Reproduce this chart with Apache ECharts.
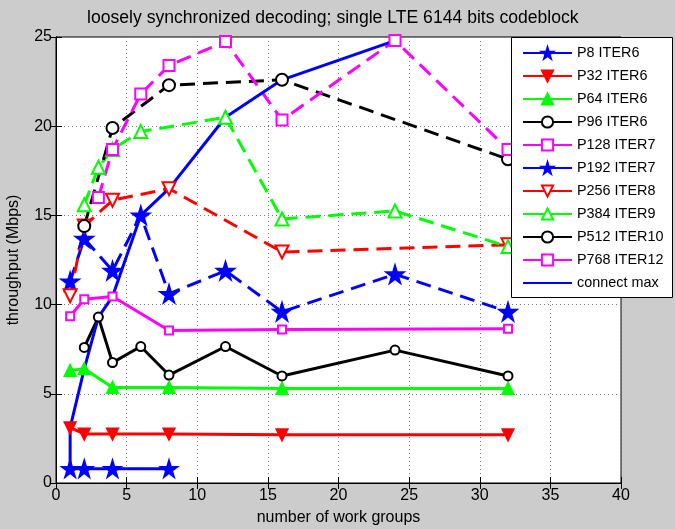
<!DOCTYPE html>
<html>
<head>
<meta charset="utf-8">
<script src="https://cdn.jsdelivr.net/npm/echarts@6/dist/echarts.min.js"></script>
<style>
html,body{margin:0;padding:0;background:#cccccc;}
#chart{width:675px;height:529px;}
</style>
</head>
<body>
<div id="chart"></div>
<script>
// data
var xTicks = [0, 5, 10, 15, 20, 25, 30, 35, 40];
var yTicks = [0, 5, 10, 15, 20, 25];

var xP8 = [1, 2, 4, 8];
var yP8 = [0.8, 0.8, 0.8, 0.8];
var xP32 = [1, 2, 4, 8, 16, 32];
var yP32 = [3.1, 2.75, 2.75, 2.75, 2.7, 2.7];
var xP64 = [1, 2, 4, 8, 16, 32];
var yP64 = [6.3, 6.4, 5.35, 5.35, 5.3, 5.3];
var xP96 = [2, 3, 4, 6, 8, 12, 16, 24, 32];
var yP96 = [7.6, 9.3, 6.75, 7.65, 6.05, 7.65, 6.0, 7.45, 6.0];
var xP128 = [1, 2, 4, 8, 16, 32];
var yP128 = [9.35, 10.3, 10.45, 8.55, 8.6, 8.65];
var xP192 = [1, 2, 4, 6, 8, 12, 16, 24, 32];
var yP192 = [11.3, 13.7, 11.9, 15.0, 10.6, 11.9, 9.6, 11.7, 9.6];
var xP256 = [1, 2, 4, 8, 16, 32];
var yP256 = [10.5, 14.4, 15.85, 16.5, 12.95, 13.35];
var xP384 = [2, 3, 4, 6, 12, 16, 24, 32];
var yP384 = [15.6, 17.7, 18.7, 19.7, 20.5, 14.8, 15.25, 13.25];
var xP512 = [2, 4, 8, 16, 32];
var yP512 = [14.4, 19.9, 22.3, 22.6, 18.15];
var xP768 = [3, 4, 6, 8, 12, 16, 24, 32];
var yP768 = [16.0, 18.7, 21.8, 23.4, 24.75, 20.35, 24.8, 18.7];
var xMax = [1, 1, 2, 3, 4, 6, 8, 12, 16, 24];
var yMax = [0.8, 3.1, 6.4, 9.3, 10.45, 15.0, 16.5, 20.5, 22.6, 24.8];

var star = 'path://M50,0 L61,35 L98,35 L68,57 L79,91 L50,70 L21,91 L32,57 L2,35 L39,35 Z';
var dash = [15, 8];

function pairs(xs, ys) {
	return xs.map(function (x, i) { return [x, ys[i]]; });
}

function mk(name, xs, ys, color, symbol, size, filled, dashed, rot) {
	var s = {
		name: name,
		type: 'line',
		data: pairs(xs, ys),
		symbol: symbol,
		symbolSize: size,
		symbolRotate: rot || 0,
		lineStyle: {color: color, width: 3, type: dashed ? dash : 'solid'},
		itemStyle: {color: filled ? color : '#fff', borderColor: color, borderWidth: 2},
		emphasis: {disabled: true},
		animation: false
	};
	if (!symbol) {
		// plain line, keep the legend icon free of a marker
		s.symbol = 'circle';
		s.symbolSize = 0;
		s.showSymbol = false;
		s.itemStyle = {color: 'rgba(0,0,0,0)', borderWidth: 0};
	}
	return s;
}

var chart = echarts.init(document.getElementById('chart'));
var axisFont = {color: '#000', fontSize: 16, fontFamily: 'Liberation Sans'};

var option = {
	backgroundColor: '#cccccc',
	title: {
		text: 'loosely synchronized decoding; single LTE 6144 bits codeblock',
		left: 82, top: 4,
		textStyle: {color: '#000', fontSize: 17.6, fontWeight: 'normal', fontFamily: 'Liberation Sans'}
	},
	grid: {left: 56, top: 37, width: 565, height: 446, outerBoundsMode: 'none', show: true, backgroundColor: '#fff', borderColor: '#000', borderWidth: 1},
	graphic: [{
		type: 'rect', left: 511, top: 37, z: 100,
		shape: {width: 161, height: 260},
		style: {fill: '#fff', stroke: '#000', lineWidth: 1}
	}],
	legend: {
		orient: 'vertical', left: 517, top: 41, z: 110,
		itemWidth: 49, itemHeight: 14, itemGap: 9,
		lineStyle: {type: 'solid'},
		textStyle: {color: '#000', fontSize: 14.4, fontFamily: 'Liberation Sans'}
	},
	xAxis: [{
		type: 'value', min: 0, max: 40, interval: 5,
		name: 'number of work groups', nameLocation: 'middle', nameGap: 27,
		nameTextStyle: axisFont,
		axisLine: {show: true, lineStyle: {color: '#000'}},
		axisTick: {inside: true, length: 6, lineStyle: {color: '#000'}},
		axisLabel: Object.assign({margin: 5}, axisFont),
		splitLine: {show: true, lineStyle: {color: '#777', type: [1, 3]}}
	}, {
		type: 'value', min: 0, max: 40, interval: 5, position: 'top',
		axisLine: {show: true, lineStyle: {color: '#000'}},
		axisTick: {inside: true, length: 6, lineStyle: {color: '#000'}},
		axisLabel: {show: false}, splitLine: {show: false}
	}],
	yAxis: [{
		type: 'value', min: 0, max: 25, interval: 5,
		name: 'throughput (Mbps)', nameLocation: 'middle', nameGap: 34,
		nameTextStyle: axisFont,
		axisLine: {show: true, lineStyle: {color: '#000'}},
		axisTick: {inside: true, length: 6, lineStyle: {color: '#000'}},
		axisLabel: Object.assign({margin: 4}, axisFont),
		splitLine: {show: true, lineStyle: {color: '#777', type: [1, 3]}}
	}, {
		type: 'value', min: 0, max: 25, interval: 5, position: 'right',
		axisLine: {show: true, lineStyle: {color: '#000'}},
		axisTick: {inside: true, length: 6, lineStyle: {color: '#000'}},
		axisLabel: {show: false}, splitLine: {show: false}
	}],
	series: [
		mk('P8 ITER6', xP8, yP8, '#0000ff', star, 16, true, false),
		mk('P32 ITER6', xP32, yP32, '#ff0000', 'triangle', 11, true, false, 180),
		mk('P64 ITER6', xP64, yP64, '#00ff00', 'triangle', 11, true, false),
		mk('P96 ITER6', xP96, yP96, '#000000', 'circle', 9, false, false),
		mk('P128 ITER7', xP128, yP128, '#ff00ff', 'rect', 8, false, false),
		mk('P192 ITER7', xP192, yP192, '#0000ff', star, 17, true, true),
		mk('P256 ITER8', xP256, yP256, '#ff0000', 'triangle', 13, false, true, 180),
		mk('P384 ITER9', xP384, yP384, '#00ff00', 'triangle', 13, false, true),
		mk('P512 ITER10', xP512, yP512, '#000000', 'circle', 12, false, true),
		mk('P768 ITER12', xP768, yP768, '#ff00ff', 'rect', 11, false, true),
		mk('connect max', xMax, yMax, '#0000ff', null, 0, true, false)
	]
};

chart.setOption(option);
</script>
</body>
</html>
